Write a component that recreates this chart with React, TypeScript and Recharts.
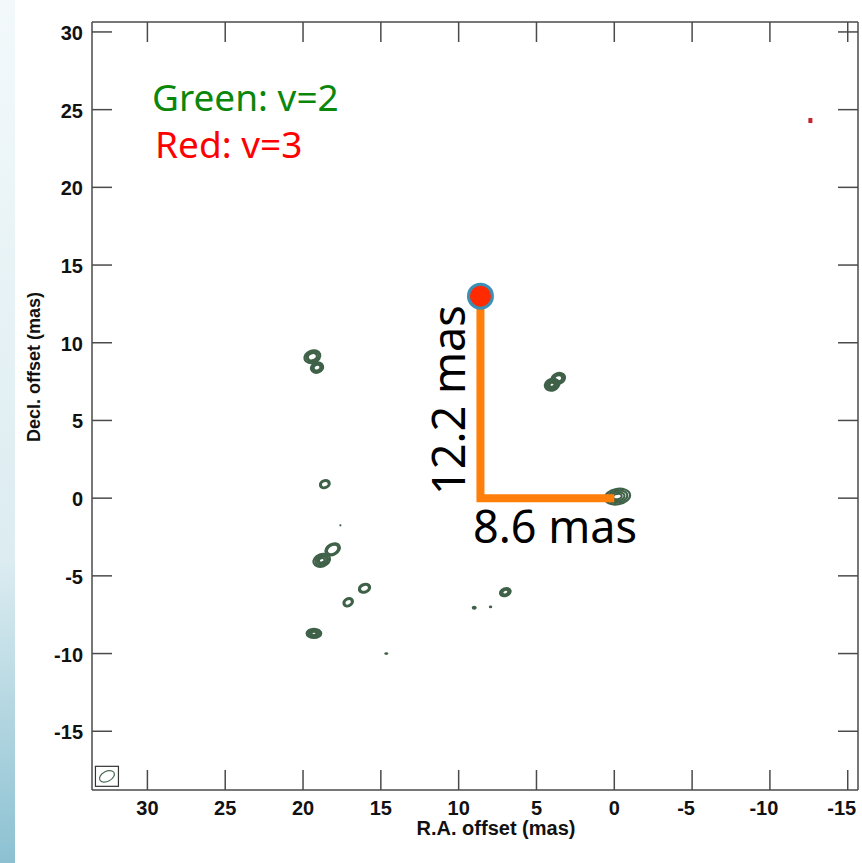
import { ScatterChart, Scatter, XAxis, YAxis } from 'recharts'

// axis limits (mas)
const X_MIN = -15.66
const X_MAX = 33.56
const Y_MIN = -18.78
const Y_MAX = 30.64
const X_TICKS = [30, 25, 20, 15, 10, 5, 0, -5, -10, -15]
const Y_TICKS = [30, 25, 20, 15, 10, 5, 0, -5, -10, -15]

// v=2 maser spots: position (mas), contour size (mas), tilt (deg), contour levels
const v2Spots = [
  { x: 19.4, y: 9.1, w: 1.05, h: 0.8, tilt: -20, levels: 3 },
  { x: 19.1, y: 8.4, w: 0.8, h: 0.65, tilt: -20, levels: 3 },
  { x: 3.6, y: 7.7, w: 0.9, h: 0.7, tilt: -20, levels: 3 },
  { x: 4.0, y: 7.3, w: 0.95, h: 0.75, tilt: -20, levels: 4 },
  { x: 18.6, y: 0.9, w: 0.65, h: 0.5, tilt: -20, levels: 2 },
  { x: 17.6, y: -1.75, w: 0.14, h: 0.14, tilt: 0, levels: 1 },
  { x: 18.1, y: -3.3, w: 1.0, h: 0.7, tilt: -30, levels: 2 },
  { x: 18.8, y: -4.0, w: 1.1, h: 0.8, tilt: -20, levels: 4 },
  { x: 16.05, y: -5.8, w: 0.75, h: 0.55, tilt: -20, levels: 2 },
  { x: 17.1, y: -6.7, w: 0.65, h: 0.5, tilt: -30, levels: 2 },
  { x: 19.3, y: -8.7, w: 0.95, h: 0.6, tilt: 0, levels: 4 },
  { x: 14.65, y: -10.0, w: 0.25, h: 0.18, tilt: 0, levels: 1 },
  { x: 9.0, y: -7.05, w: 0.32, h: 0.26, tilt: 0, levels: 1 },
  { x: 7.95, y: -7.0, w: 0.22, h: 0.18, tilt: 0, levels: 1 },
  { x: 7.0, y: -6.05, w: 0.7, h: 0.5, tilt: -20, levels: 3 },
  { x: -0.2, y: 0.1, w: 1.65, h: 1.0, tilt: -10, levels: 4 },
]

// v=3 spot
const v3Spots = [{ x: -12.6, y: 24.3 }]

// offset marker and its L-shaped legs (8.6 mas in RA, 12.2 mas in Dec)
const offsetLegs = [
  { x: 8.6, y: 13.0 },
  { x: 8.6, y: 0 },
  { x: 0, y: 0 },
]
const offsetDot = [{ x: 8.6, y: 13.0 }]

// restoring beam in the lower-left corner
const beam = [{ x: 32.6, y: -17.9 }]

const W = 862
const H = 863
// axes are 1px thick boxes, so the plot spans x 92..858, y 22..790
const MARGIN = { top: 21, right: 3, bottom: 72, left: 91 }
const PX_PER_MAS = 766 / (X_MAX - X_MIN)
const FRAME = '#4a4a4a'
const CONTOUR = '#3f6148'
const FONT = '"Liberation Sans", Arial, sans-serif'
const ANNOT_FONT = '"Noto Sans", "DejaVu Sans", sans-serif'

const SpotShape = (p: any) => {
  const { cx, cy, payload } = p
  const rx = (payload.w * PX_PER_MAS) / 2
  const ry = (payload.h * PX_PER_MAS) / 2
  if (payload.levels === 1) {
    return <ellipse cx={cx} cy={cy} rx={Math.max(rx, 1)} ry={Math.max(ry, 1)} fill={CONTOUR} />
  }
  const rings = []
  for (let i = 0; i < payload.levels; i++) {
    const k = 1 - i * 0.22
    rings.push(
      <ellipse key={i} cx={cx} cy={cy} rx={rx * k} ry={ry * k} fill="none" stroke={CONTOUR} strokeWidth={2.1} />
    )
  }
  return <g transform={`rotate(${payload.tilt} ${cx} ${cy})`}>{rings}</g>
}

const bottomTick = (p: any) => {
  const v = p.payload.value
  return (
    <g>
      <line x1={p.x} y1={p.y} x2={p.x} y2={p.y - 20} stroke={FRAME} strokeWidth={1.5} />
      <text x={v < 0 ? p.x - 6 : p.x} y={p.y + 25} textAnchor="middle" fontFamily={FONT} fontWeight="bold" fontSize={20} fill="#111">
        {v}
      </text>
    </g>
  )
}
const topTick = (p: any) => (
  <line x1={p.x} y1={p.y} x2={p.x} y2={p.y + 20} stroke={FRAME} strokeWidth={1.5} />
)
const leftTick = (p: any) => (
  <g>
    <line x1={p.x} y1={p.y} x2={p.x + 20} y2={p.y} stroke={FRAME} strokeWidth={1.5} />
    <text x={p.x - 9} y={p.y + 8} textAnchor="end" fontFamily={FONT} fontWeight="bold" fontSize={20} fill="#111">
      {p.payload.value}
    </text>
  </g>
)
const rightTick = (p: any) => (
  <line x1={p.x} y1={p.y} x2={p.x - 20} y2={p.y} stroke={FRAME} strokeWidth={1.5} />
)

export default function App() {
  const axisLine = { stroke: FRAME, strokeWidth: 1.5 }
  return (
    <div style={{ position: 'absolute', left: 0, top: 0, width: W, height: H, background: '#fff', overflow: 'hidden' }}>
      <div
        style={{
          position: 'absolute',
          left: 0,
          top: 0,
          width: 15,
          height: H,
          background: 'linear-gradient(#f3f9fb 0%, #dcecf1 65%, #8cc1d2 100%)',
        }}
      />
      <div style={{ position: 'absolute', left: 0, top: 0 }}>
        <ScatterChart width={W} height={H} margin={MARGIN}>
          <XAxis
            xAxisId="b"
            type="number"
            dataKey="x"
            orientation="bottom"
            domain={[X_MIN, X_MAX]}
            reversed
            allowDataOverflow
            ticks={X_TICKS}
            interval={0}
            height={1}
            tickSize={0}
            tickMargin={0}
            tick={bottomTick}
            axisLine={axisLine}
          />
          <XAxis
            xAxisId="t"
            type="number"
            dataKey="x"
            orientation="top"
            domain={[X_MIN, X_MAX]}
            reversed
            allowDataOverflow
            ticks={X_TICKS}
            interval={0}
            height={1}
            tickSize={0}
            tickMargin={0}
            tick={topTick}
            axisLine={axisLine}
          />
          <YAxis
            yAxisId="l"
            type="number"
            dataKey="y"
            domain={[Y_MIN, Y_MAX]}
            allowDataOverflow
            ticks={Y_TICKS}
            interval={0}
            width={1}
            tickSize={0}
            tickMargin={0}
            tick={leftTick}
            axisLine={axisLine}
          />
          <YAxis
            yAxisId="r"
            type="number"
            dataKey="y"
            orientation="right"
            domain={[Y_MIN, Y_MAX]}
            allowDataOverflow
            ticks={Y_TICKS}
            interval={0}
            width={1}
            tickSize={0}
            tickMargin={0}
            tick={rightTick}
            axisLine={axisLine}
          />
          <Scatter xAxisId="b" yAxisId="l" data={v2Spots} shape={SpotShape} isAnimationActive={false} />
          <Scatter
            xAxisId="t"
            yAxisId="r"
            data={v3Spots}
            isAnimationActive={false}
            shape={(p: any) => <rect x={p.cx - 2} y={p.cy - 2.5} width={4} height={5} fill="#c4242c" />}
          />
          <Scatter
            xAxisId="b"
            yAxisId="l"
            data={beam}
            isAnimationActive={false}
            shape={(p: any) => (
              <g>
                <rect x={p.cx - 11.5} y={p.cy - 10} width={23} height={20} fill="none" stroke="#333" strokeWidth={1.2} />
                <ellipse cx={p.cx} cy={p.cy} rx={8} ry={5} fill="none" stroke="#4d6e55" strokeWidth={1.2} transform={`rotate(-28 ${p.cx} ${p.cy})`} />
              </g>
            )}
          />
          <Scatter
            xAxisId="b"
            yAxisId="l"
            data={offsetLegs}
            line={{ stroke: '#ff7f0a', strokeWidth: 8 }}
            shape={() => <g />}
            isAnimationActive={false}
          />
          <Scatter
            xAxisId="b"
            yAxisId="l"
            data={offsetDot}
            isAnimationActive={false}
            shape={(p: any) => <circle cx={p.cx} cy={p.cy} r={12} fill="#ff2a00" stroke="#3b90b8" strokeWidth={3} />}
          />
        </ScatterChart>
      </div>
      <svg width={W} height={H} style={{ position: 'absolute', left: 0, top: 0, pointerEvents: 'none' }}>
        <text x={152} y={111} fontFamily={ANNOT_FONT} fontSize={37} fill="#0a870a">
          Green: v=2
        </text>
        <text x={155} y={158} fontFamily={ANNOT_FONT} fontSize={37} fill="#ff0000">
          Red: v=3
        </text>
        <text x={465} y={400} transform="rotate(-90 465 400)" textAnchor="middle" fontFamily={ANNOT_FONT} fontSize={45} fill="#000">
          12.2 mas
        </text>
        <text x={473} y={543} fontFamily={ANNOT_FONT} fontSize={45} fill="#000">
          8.6 mas
        </text>
        <text x={496} y={835} textAnchor="middle" fontFamily={FONT} fontWeight="bold" fontSize={20} fill="#111">
          R.A. offset (mas)
        </text>
        <text x={40} y={367} transform="rotate(-90 40 367)" textAnchor="middle" fontFamily={FONT} fontWeight="bold" fontSize={18} fill="#111">
          Decl. offset (mas)
        </text>
      </svg>
    </div>
  )
}
